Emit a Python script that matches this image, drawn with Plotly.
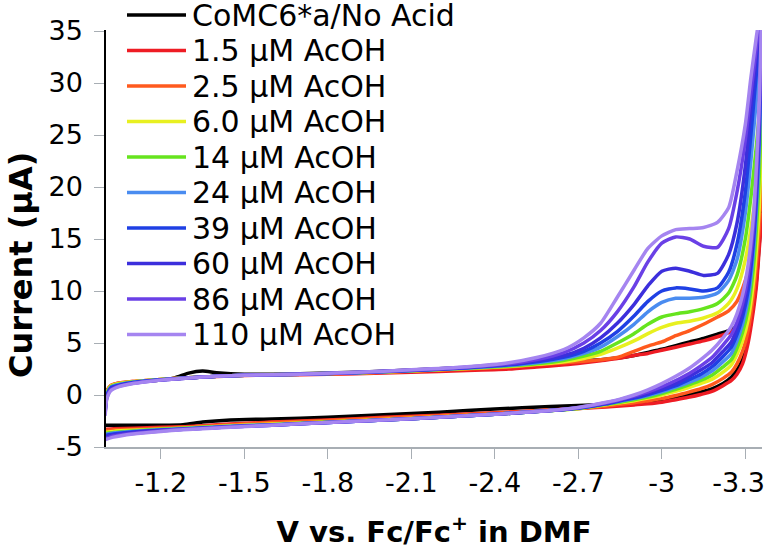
import plotly.graph_objects as go

# ---------------- data ----------------
E_FWD = [-1.0, -1.005, -1.02, -1.05, -1.1, -1.15, -1.2, -1.25, -1.3, -1.35, -1.4, -1.5,
         -1.7, -1.9, -2.1, -2.3, -2.45, -2.55, -2.65, -2.72, -2.78, -2.84, -2.9, -2.95,
         -3.0, -3.05, -3.1, -3.15, -3.2, -3.24, -3.27, -3.3, -3.32, -3.34, -3.36]
E_REV = [-3.36, -3.35, -3.34, -3.33, -3.31, -3.29, -3.27, -3.25, -3.22, -3.18, -3.14,
         -3.1, -3.05, -3.0, -2.95, -2.9, -2.85, -2.8, -2.7, -2.6, -2.4, -2.2, -2.0,
         -1.8, -1.6, -1.45, -1.35, -1.28, -1.2, -1.1, -1.03, -1.0]

LABELS = ["CoMC6*a/No Acid", "1.5 μM AcOH", "2.5 μM AcOH", "6.0 μM AcOH", "14 μM AcOH",
          "24 μM AcOH", "39 μM AcOH", "60 μM AcOH", "86 μM AcOH", "110 μM AcOH"]

I_FWD_NOACID = [-1.5, 0.0, 0.7, 1.0, 1.2, 1.35, 1.45, 1.65, 2.1, 2.3, 2.15, 2.0, 2.05, 2.2, 2.4, 2.65, 2.9,
                3.05, 3.2, 3.3, 3.4, 3.55, 3.8, 4.1, 4.4, 4.75, 5.1, 5.45, 5.85, 6.2, 6.6, 7.8, 9.8, 12.8, 18.0]
I_REV_NOACID = [18, 14.5, 11, 8.8, 5.5, 3.4, 2.4, 1.7, 1.1, 0.6, 0.3, 0.05, -0.25, -0.45, -0.6, -0.7,
                -0.8, -0.9, -1.0, -1.1, -1.35, -1.65, -1.9, -2.15, -2.3, -2.4, -2.6, -2.85, -2.9, -2.9, -2.9, -2.9]

I_FWD_1_5 = [-1.0, 0.3, 0.9, 1.15, 1.3, 1.4, 1.5, 1.58, 1.66, 1.72, 1.78, 1.88, 1.95, 2.05, 2.2, 2.35, 2.5,
             2.7, 2.9, 3.1, 3.3, 3.5, 3.8, 4.0, 4.3, 4.6, 4.9, 5.2, 5.6, 6.0, 6.5, 7.6, 9.3, 12.3, 17.5]
I_REV_1_5 = [17.5, 14, 10.5, 8.3, 5.0, 3.0, 2.0, 1.4, 0.9, 0.35, 0.05, -0.2, -0.45, -0.7, -0.85, -0.95,
             -1.05, -1.15, -1.3, -1.45, -1.7, -1.95, -2.15, -2.4, -2.6, -2.8, -2.95, -3.05, -3.1, -3.2, -3.25, -3.3]

I_FWD_2_5 = [-1.2, 0.2, 0.9, 1.15, 1.3, 1.4, 1.5, 1.58, 1.66, 1.73, 1.8, 1.9, 2.0, 2.1, 2.3, 2.5, 2.7,
             2.9, 3.1, 3.25, 3.4, 3.6, 4.2, 4.7, 5.1, 5.7, 6.2, 6.8, 7.5, 8.1, 9.0, 11.0, 13.0, 16.5, 21.0]
I_REV_2_5 = [21, 16, 12.5, 9.8, 6.2, 4.2, 3.0, 2.2, 1.6, 1.0, 0.6, 0.3, -0.05, -0.35, -0.55, -0.75,
             -0.9, -1.05, -1.3, -1.45, -1.75, -2.0, -2.2, -2.45, -2.65, -2.85, -3.0, -3.1, -3.2, -3.3, -3.35, -3.4]

I_FWD_6_0 = [-1.3, 0.1, 0.85, 1.1, 1.28, 1.4, 1.5, 1.58, 1.66, 1.73, 1.8, 1.9, 2.0, 2.12, 2.32, 2.55, 2.75,
             2.95, 3.2, 3.5, 3.9, 4.5, 5.2, 5.9, 6.5, 6.9, 7.1, 7.4, 7.9, 8.8, 10.2, 13.0, 16.0, 20.0, 25.5]
I_REV_6_0 = [25.5, 18, 14, 11, 7.2, 5.2, 3.9, 2.9, 2.2, 1.5, 1.1, 0.75, 0.35, 0.0, -0.3, -0.55,
             -0.75, -0.95, -1.3, -1.5, -1.85, -2.1, -2.35, -2.6, -2.8, -2.95, -3.1, -3.2, -3.3, -3.4, -3.5, -3.6]

I_FWD_14 = [-1.4, 0.0, 0.8, 1.05, 1.25, 1.38, 1.48, 1.57, 1.65, 1.72, 1.8, 1.9, 2.0, 2.13, 2.33, 2.57, 2.8,
            3.0, 3.35, 3.75, 4.2, 5.0, 5.9, 6.8, 7.5, 7.8, 8.0, 8.3, 8.8, 9.8, 11.5, 15.0, 19.0, 24.0, 30.0]
I_REV_14 = [30, 21, 16, 12.5, 8.2, 6.0, 4.5, 3.4, 2.7, 1.9, 1.4, 1.0, 0.55, 0.15, -0.2, -0.45,
            -0.7, -0.9, -1.3, -1.5, -1.85, -2.15, -2.4, -2.6, -2.85, -3.0, -3.1, -3.2, -3.3, -3.45, -3.6, -3.7]

I_FWD_24 = [-1.5, -0.1, 0.75, 1.0, 1.22, 1.36, 1.47, 1.56, 1.65, 1.72, 1.8, 1.9, 2.0, 2.14, 2.35, 2.6, 2.85,
            3.1, 3.5, 4.0, 4.6, 5.6, 6.8, 8.0, 8.9, 9.3, 9.3, 9.4, 9.8, 11.0, 13.0, 17.5, 22.5, 28.5, 34.0]
I_REV_24 = [34, 23.5, 18, 14, 9.2, 6.8, 5.2, 4.0, 3.2, 2.3, 1.7, 1.25, 0.75, 0.3, -0.05, -0.35,
            -0.6, -0.85, -1.25, -1.5, -1.85, -2.15, -2.4, -2.65, -2.85, -3.0, -3.15, -3.25, -3.35, -3.5, -3.65, -3.8]

I_FWD_39 = [-1.6, -0.2, 0.7, 0.95, 1.2, 1.35, 1.46, 1.56, 1.65, 1.72, 1.8, 1.9, 2.0, 2.15, 2.36, 2.62, 2.9,
            3.2, 3.65, 4.2, 5.0, 6.1, 7.6, 9.0, 10.0, 10.3, 10.2, 10.0, 10.3, 11.8, 14.5, 19.5, 25.0, 31.0, 36.0]
I_REV_39 = [36, 25, 19, 15, 10, 7.5, 5.8, 4.6, 3.7, 2.7, 2.0, 1.5, 0.9, 0.45, 0.05, -0.3,
            -0.55, -0.85, -1.25, -1.5, -1.85, -2.15, -2.4, -2.65, -2.9, -3.05, -3.2, -3.3, -3.4, -3.55, -3.75, -3.9]

I_FWD_60 = [-1.7, -0.3, 0.6, 0.9, 1.15, 1.32, 1.45, 1.55, 1.64, 1.72, 1.8, 1.9, 2.0, 2.16, 2.38, 2.65, 2.95,
            3.3, 3.8, 4.5, 5.5, 6.9, 8.7, 10.5, 11.9, 12.2, 11.9, 11.5, 11.7, 13.5, 16.5, 22.0, 27.5, 32.5, 37.0]
I_REV_60 = [37, 26, 20, 15.8, 10.8, 8.2, 6.4, 5.1, 4.2, 3.1, 2.4, 1.8, 1.1, 0.6, 0.15, -0.2,
            -0.5, -0.8, -1.25, -1.5, -1.85, -2.15, -2.4, -2.65, -2.9, -3.05, -3.2, -3.3, -3.4, -3.6, -3.85, -4.0]

I_FWD_86 = [-1.8, -0.4, 0.5, 0.85, 1.12, 1.3, 1.44, 1.55, 1.64, 1.72, 1.8, 1.9, 2.0, 2.17, 2.4, 2.68, 3.0,
            3.4, 4.1, 5.0, 6.2, 8.0, 10.4, 12.8, 14.6, 15.2, 15.0, 14.3, 14.2, 16.0, 19.5, 24.5, 29.0, 33.5, 38.0]
I_REV_86 = [38, 27, 21, 16.5, 11.5, 8.8, 7.0, 5.8, 4.8, 3.6, 2.8, 2.1, 1.4, 0.8, 0.3, -0.1,
            -0.45, -0.75, -1.2, -1.5, -1.85, -2.15, -2.4, -2.65, -2.9, -3.05, -3.2, -3.3, -3.45, -3.7, -3.95, -4.2]

I_FWD_110 = [-2.0, -0.5, 0.4, 0.8, 1.1, 1.28, 1.43, 1.54, 1.64, 1.72, 1.8, 1.9, 2.0, 2.18, 2.42, 2.72, 3.1,
             3.6, 4.4, 5.5, 6.9, 9.4, 12.0, 14.1, 15.3, 15.9, 16.0, 16.1, 16.6, 18.0, 21.5, 26.0, 30.5, 34.5, 38.0]
I_REV_110 = [38, 28, 22, 17.5, 12.5, 9.6, 7.8, 6.6, 5.5, 4.3, 3.4, 2.6, 1.8, 1.1, 0.5, 0.0,
             -0.4, -0.7, -1.2, -1.5, -1.85, -2.15, -2.4, -2.65, -2.9, -3.1, -3.25, -3.35, -3.5, -3.75, -4.05, -4.3]

X_TICKS = [-1.2, -1.5, -1.8, -2.1, -2.4, -2.7, -3.0, -3.3]
X_TICK_TEXT = ["-1.2", "-1.5", "-1.8", "-2.1", "-2.4", "-2.7", "-3", "-3.3\u2002"]
Y_TICKS = [-5, 0, 5, 10, 15, 20, 25, 30, 35]
Y_TICK_TEXT = ["-5", "0", "5", "10", "15", "20", "25", "30", "35"]

# ---------------- styling ----------------
COLORS = ["#000000", "#ee1c24", "#ff5a1e", "#e8f020", "#66e41e",
          "#4a8cf0", "#1f40e4", "#3c2fdc", "#6a40e6", "#a585f0"]

SERIES = [
    (I_FWD_NOACID, I_REV_NOACID), (I_FWD_1_5, I_REV_1_5), (I_FWD_2_5, I_REV_2_5),
    (I_FWD_6_0, I_REV_6_0), (I_FWD_14, I_REV_14), (I_FWD_24, I_REV_24),
    (I_FWD_39, I_REV_39), (I_FWD_60, I_REV_60), (I_FWD_86, I_REV_86), (I_FWD_110, I_REV_110),
]

W, H = 767, 551
L, R, T, B = 106, 5, 30, 104
PW, PH = W - L - R, H - T - B

fig = go.Figure()
for (fwd, rev), name, col in zip(SERIES, LABELS, COLORS):
    fig.add_trace(go.Scatter(
        x=E_FWD + E_REV, y=fwd + rev, mode="lines", name=name,
        line=dict(color=col, width=3.5, shape="spline", smoothing=0.6),
        showlegend=False, hoverinfo="skip"))

# manual legend (long line samples like the reference)
shapes, annots = [], []
for i, (name, col) in enumerate(zip(LABELS, COLORS)):
    ypx = 15 + 35.5 * i
    yp = (H - B - ypx) / PH
    shapes.append(dict(type="line", xref="paper", yref="paper",
                       x0=(127 - L) / PW, x1=(186 - L) / PW, y0=yp, y1=yp,
                       line=dict(color=col, width=3.5)))
    annots.append(dict(xref="paper", yref="paper", x=(190 - L) / PW, y=yp,
                       text=name, showarrow=False, xanchor="left", yanchor="middle",
                       font=dict(family="DejaVu Sans", size=30, color="#000000")))

# y-axis title placed like the reference (slightly below the plot centre)
annots.append(dict(xref="paper", yref="paper", x=(21 - L) / PW, y=(H - B - 265) / PH,
                   text="<b>Current (μA)</b>", showarrow=False, textangle=-90,
                   xanchor="center", yanchor="middle",
                   font=dict(family="DejaVu Sans", size=32, color="#000000")))

fig.update_layout(
    width=W, height=H, margin=dict(l=L, r=R, t=T, b=B, autoexpand=False),
    paper_bgcolor="white", plot_bgcolor="white",
    shapes=shapes, annotations=annots, showlegend=False,
    font=dict(family="DejaVu Sans", color="#000000"),
)
fig.update_xaxes(
    range=[-1.003, -3.36], tickvals=X_TICKS, ticktext=X_TICK_TEXT, automargin=False,
    showgrid=False, zeroline=False, showline=True, linecolor="#a8aeb4", linewidth=1.5,
    ticks="outside", ticklen=10, tickcolor="#a8aeb4", tickwidth=1,
    ticklabeloverflow="allow",
    tickfont=dict(family="DejaVu Sans", size=27, color="#000000"), ticklabelstandoff=1,
    title=dict(text="<b>V vs. Fc/Fc<sup>+</sup> in DMF</b>", standoff=25,
               font=dict(family="DejaVu Sans", size=29, color="#000000")),
)
fig.update_yaxes(
    range=[-5, 35.1], tickvals=Y_TICKS, ticktext=Y_TICK_TEXT, automargin=False,
    showgrid=False, zeroline=False, showline=True, linecolor="#000000", linewidth=1.5,
    ticks="outside", ticklen=10, tickcolor="#a8aeb4", tickwidth=1,
    tickfont=dict(family="DejaVu Sans", size=27, color="#000000"), ticklabelstandoff=6,
)

fig.write_html("out.html", config={"displayModeBar": False},
               post_script="document.body.style.margin='0';document.body.style.padding='0';")
